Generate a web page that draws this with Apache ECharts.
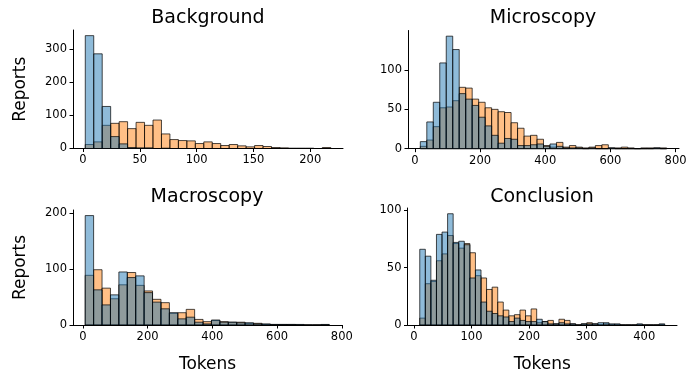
<!DOCTYPE html>
<html>
<head>
<meta charset="utf-8">
<script src="https://cdn.jsdelivr.net/npm/echarts@6/dist/echarts.min.js"></script>
<style>
html, body { margin: 0; padding: 0; background: #fff; }
#chart { width: 690px; height: 374px; }
</style>
</head>
<body>
<div id="chart"></div>
<script>
// histogram bins: first edge + bin width (tokens), counts per bin
var titles = ["Background", "Microscopy", "Macroscopy", "Conclusion"];

var bgStart = 2, bgWidth = 7.45;
var bgBlue = [341, 286, 127, 36, 14, 3, 2, 2, 0, 1, 0, 0, 0, 0, 0, 0, 0, 0, 0, 0, 0, 0, 0, 0, 0, 0, 0, 0, 0];
var bgOrange = [12, 20, 70, 76, 81, 60, 79, 70, 86, 44, 27, 24, 23, 15, 20, 15, 9, 12, 8, 5, 9, 6, 3, 2, 1, 1, 1, 0, 3];

var miStart = 16.6, miWidth = 19.9;
var miBlue = [9, 34, 59, 109, 143, 126, 70, 63, 55, 40, 29, 17, 7, 13, 12, 4, 4, 5, 6, 3, 6, 3, 1, 1, 1, 0, 1, 0, 0, 1, 0, 0, 0, 0, 0, 0, 1, 0];
var miOrange = [3, 11, 28, 52, 53, 61, 78, 77, 63, 59, 52, 50, 47, 46, 33, 26, 16, 17, 12, 4, 2, 8, 2, 4, 2, 1, 2, 4, 5, 1, 1, 2, 1, 0, 1, 1, 1, 1];

var maStart = 7.3, maWidth = 26;
var maBlue = [196, 63, 36, 54, 95, 85, 88, 58, 41, 29, 22, 11, 14, 5, 2, 9, 5, 5, 4, 4, 2, 2, 1, 1, 1, 1, 0, 0, 1];
var maOrange = [89, 99, 66, 47, 72, 94, 71, 61, 46, 40, 21, 22, 28, 10, 6, 8, 6, 5, 5, 3, 3, 1, 1, 1, 1, 0, 0, 0, 0];

var coStart = 10.1, coWidth = 9.67;
var coBlue = [66, 60, 39, 79, 81, 97, 72, 73, 70, 41, 48, 20, 12, 10, 8, 7, 3, 6, 4, 3, 3, 5, 3, 1, 1, 2, 1, 1, 0, 1, 1, 1, 2, 2, 1, 1, 0, 0, 0, 1, 0, 0, 0, 1];
var coOrange = [6, 36, 38, 56, 62, 78, 71, 67, 71, 63, 43, 41, 31, 33, 20, 13, 8, 9, 13, 8, 14, 2, 3, 4, 1, 5, 4, 1, 0, 1, 2, 1, 0, 1, 0, 0, 0, 0, 0, 0, 0, 0, 0, 0];

// tick labels
var bgXTicks = [0, 50, 100, 150, 200];
var miXTicks = [0, 200, 400, 600, 800];
var maXTicks = [0, 200, 400, 600, 800];
var coXTicks = [0, 100, 200, 300, 400];
var bgYTicks = [0, 100, 200, 300];
var miYTicks = [0, 50, 100];
var maYTicks = [0, 100, 200];
var coYTicks = [0, 50, 100];

var FONT = "DejaVu Sans";
var BLUE = "rgba(31,119,180,0.5)";
var ORANGE = "rgba(255,127,14,0.5)";

function bins(start, width, counts) {
  return counts.map(function (c, i) {
    return [start + i * width, start + (i + 1) * width, c];
  });
}

function hist(idx, start, width, counts, color) {
  return {
    type: "custom",
    xAxisIndex: idx,
    yAxisIndex: idx,
    silent: true,
    encode: { x: [0, 1], y: 2 },
    data: bins(start, width, counts),
    renderItem: function (params, api) {
      var p0 = api.coord([api.value(0), api.value(2)]);
      var p1 = api.coord([api.value(1), 0]);
      return {
        type: "rect",
        shape: { x: p0[0], y: p0[1], width: p1[0] - p0[0], height: p1[1] - p0[1] },
        style: { fill: color, stroke: "rgba(0,0,0,0.7)", lineWidth: 1 }
      };
    }
  };
}

function xAxis(idx, min, max, ticks, name) {
  return {
    type: "value",
    gridIndex: idx,
    min: min,
    max: max,
    name: name || "",
    nameLocation: "middle",
    nameGap: 31,
    nameTextStyle: { fontFamily: FONT, fontSize: 17, color: "#000" },
    axisLine: { show: true, onZero: false, lineStyle: { color: "#000", width: 1 } },
    axisTick: { show: true, length: 3.5, customValues: ticks, lineStyle: { color: "#000", width: 1 } },
    axisLabel: { customValues: ticks, fontFamily: FONT, fontSize: 11.5, color: "#000", margin: 6 },
    splitLine: { show: false }
  };
}

function yAxis(idx, max, ticks, name) {
  return {
    type: "value",
    gridIndex: idx,
    min: 0,
    max: max,
    name: name || "",
    nameLocation: "middle",
    nameGap: 44,
    nameTextStyle: { fontFamily: FONT, fontSize: 17, color: "#000" },
    axisLine: { show: true, onZero: false, lineStyle: { color: "#000", width: 1 } },
    axisTick: { show: true, length: 3.5, customValues: ticks, lineStyle: { color: "#000", width: 1 } },
    axisLabel: { customValues: ticks, fontFamily: FONT, fontSize: 11.5, color: "#000", margin: 6 },
    splitLine: { show: false }
  };
}

var titlePos = [[208, 18], [543, 18], [207, 197], [542, 197]];

var myChart = echarts.init(document.getElementById("chart"), null, { renderer: "canvas" });
var option = {
  animation: false,
  grid: [
    { left: 73, top: 30, width: 270, height: 118.5 },
    { left: 408, top: 30.5, width: 271, height: 118.2 },
    { left: 73, top: 210, width: 269, height: 117 },
    { left: 407.5, top: 208, width: 269.5, height: 119 }
  ],
  xAxis: [
    xAxis(0, -8.8, 228.8, bgXTicks),
    xAxis(1, -21.2, 810.6, miXTicks),
    xAxis(2, -30.4, 800.5, maXTicks, "Tokens"),
    xAxis(3, -11.2, 456.9, coXTicks, "Tokens")
  ],
  yAxis: [
    yAxis(0, 358, bgYTicks, "Reports"),
    yAxis(1, 150.2, miYTicks),
    yAxis(2, 206, maYTicks, "Reports"),
    yAxis(3, 102, coYTicks)
  ],
  graphic: titles.map(function (t, i) {
    return {
      type: "text",
      x: titlePos[i][0],
      y: titlePos[i][1],
      style: { text: t, fontFamily: FONT, fontSize: 19, fill: "#000", align: "center", verticalAlign: "middle" }
    };
  }),
  series: [
    hist(0, bgStart, bgWidth, bgOrange, ORANGE),
    hist(0, bgStart, bgWidth, bgBlue, BLUE),
    hist(1, miStart, miWidth, miOrange, ORANGE),
    hist(1, miStart, miWidth, miBlue, BLUE),
    hist(2, maStart, maWidth, maOrange, ORANGE),
    hist(2, maStart, maWidth, maBlue, BLUE),
    hist(3, coStart, coWidth, coOrange, ORANGE),
    hist(3, coStart, coWidth, coBlue, BLUE)
  ]
};
myChart.setOption(option);
</script>
</body>
</html>
